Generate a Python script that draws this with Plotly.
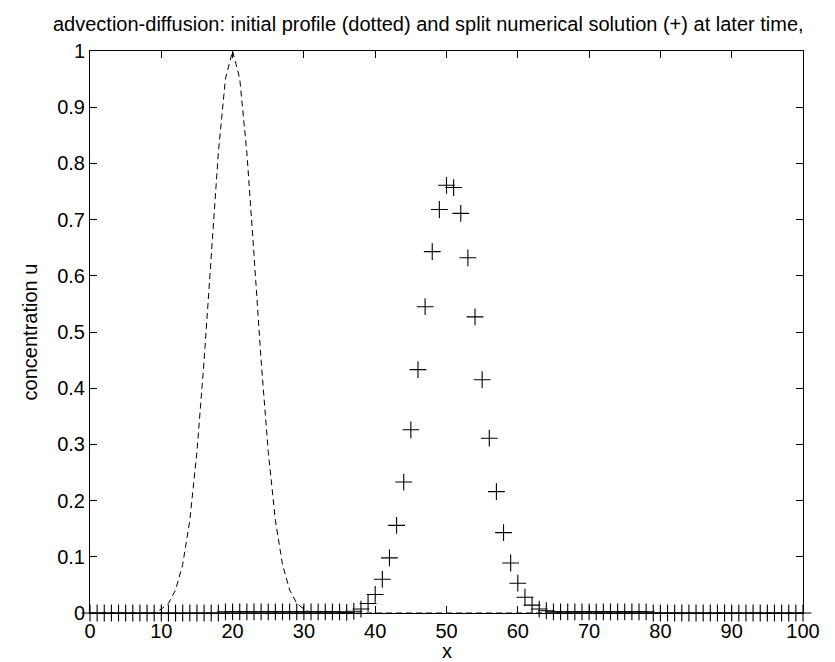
import plotly.graph_objects as go

# Grid positions (integer x from 0 to 100)
x_grid = list(range(0, 101))

# Initial profile (dashed): nonzero between x=10 and x=30
init_x = list(range(0, 101))
init_peak = [0.007, 0.017, 0.041, 0.086, 0.165, 0.287, 0.449, 0.638, 0.819, 0.951,
             1.0,
             0.951, 0.819, 0.638, 0.449, 0.287, 0.165, 0.086, 0.041, 0.017, 0.007]
init_u = [0.0] * 10 + init_peak + [0.0] * 70

# Numerical solution (+)
num_left = [0.0] * 19                      # x = 0..18
num_low1 = [0.002] * 17                    # x = 19..35
num_bump = [0.001, 0.003, 0.007, 0.017, 0.033, 0.06, 0.098, 0.156, 0.233, 0.326,
            0.433, 0.545, 0.643, 0.718, 0.761, 0.757, 0.711, 0.632, 0.527, 0.415,
            0.311, 0.216, 0.143, 0.089, 0.053, 0.028, 0.014, 0.007, 0.004, 0.002]  # x = 36..65
num_low2 = [0.002] * 13                    # x = 66..78
num_right = [0.0] * 22                     # x = 79..100
num_u = num_left + num_low1 + num_bump + num_low2 + num_right

x_ticks = [0, 10, 20, 30, 40, 50, 60, 70, 80, 90, 100]
y_ticks = [0, 0.1, 0.2, 0.3, 0.4, 0.5, 0.6, 0.7, 0.8, 0.9, 1]
y_tick_text = ["0", "0.1", "0.2", "0.3", "0.4", "0.5", "0.6", "0.7", "0.8", "0.9", "1"]

title_text = "advection-diffusion: initial profile (dotted) and split numerical solution (+) at later time,"

FONT = "Liberation Sans, Arial, Helvetica, sans-serif"
FS = 20

fig = go.Figure()
fig.add_trace(go.Scatter(
    x=init_x, y=init_u, mode="lines",
    line=dict(color="black", width=1, dash="6px,4px"),
    showlegend=False, hoverinfo="skip"))
fig.add_trace(go.Scatter(
    x=x_grid, y=num_u, mode="markers",
    marker=dict(symbol="cross-thin", size=12, line=dict(color="black", width=1.1)),
    showlegend=False, cliponaxis=False))

axis_common = dict(
    showline=True, linecolor="black", linewidth=1, mirror="ticks",
    ticks="inside", ticklen=7, tickwidth=1, tickcolor="black",
    showgrid=False, zeroline=False, automargin=False,
    tickfont=dict(family=FONT, size=FS, color="black"),
)

fig.update_layout(
    template="none",
    width=835, height=662,
    margin=dict(l=82, r=40, t=43, b=57, pad=0),
    paper_bgcolor="white", plot_bgcolor="white",
    font=dict(family=FONT, size=FS, color="black"),
    xaxis=dict(range=[0, 100], tickvals=x_ticks, **axis_common),
    yaxis=dict(range=[0, 1], tickvals=y_ticks, ticktext=y_tick_text, **axis_common,
               title=dict(text="concentration u", font=dict(family=FONT, size=FS), standoff=14)),
    annotations=[
        dict(text=title_text, xref="paper", yref="paper", x=0.475, y=1,
             xanchor="center", yanchor="bottom", yshift=14, showarrow=False,
             font=dict(family=FONT, size=FS, color="black")),
        dict(text="x", xref="paper", yref="paper", x=0.5, y=0,
             xanchor="center", yanchor="bottom", yshift=-51, showarrow=False,
             font=dict(family=FONT, size=FS, color="black")),
    ],
)

fig.write_html("out.html")
